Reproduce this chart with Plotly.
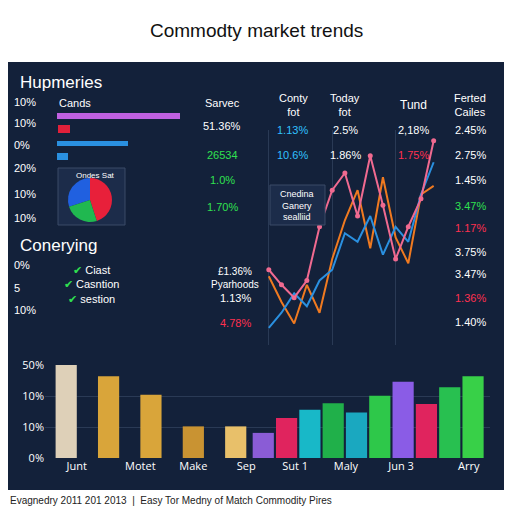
import plotly.graph_objects as go

# ---- data ----
line_x = list(range(14))
orange = [32, 20, 10, 28, 15, 40, 58, 72, 45, 78, 50, 38, 70, 74]
blue = [8, 15, 24, 18, 30, 35, 52, 48, 60, 42, 55, 48, 70, 85]
pink = [35, 28, 22, 30, 55, 72, 80, 60, 88, 65, 40, 55, 68, 95]

bar_x = [1, 3, 5, 7, 9, 10.3, 11.4, 12.5, 13.6, 14.7, 15.8, 16.9, 18.0, 19.1, 20.2]
bar_v = [100, 88, 68, 34, 34, 27, 43, 52, 59, 49, 67, 82, 58, 76, 88]
bar_c = ["#ded0b8", "#d9a53a", "#d9a53a", "#c99332", "#e8c06a", "#8a5cd6", "#e0245e", "#18b8c8",
         "#20b04a", "#1aa8c0", "#2ec84a", "#8a5ce6", "#e0245e", "#28c050", "#38d048"]
bar_ticks = ["Junt", "Motet", "Make", "Sep", "Sut 1", "Maly", "Jun 3", "Arry"]
bar_tickpos = [1.5, 4.5, 7, 9.5, 11.8, 14.2, 16.8, 20]
pie_vals = [45, 30, 25]
pie_cols = ["#e8203a", "#2060e0", "#20b850"]

W = 512
OFF = 8
def px(x): return (x - OFF) / W
def py(y): return 1 - (y - OFF) / W

fig = go.Figure()
fig.add_trace(go.Scatter(x=line_x, y=orange, mode="lines", line=dict(color="#f07a20", width=2), xaxis="x", yaxis="y"))
fig.add_trace(go.Scatter(x=line_x, y=blue, mode="lines", line=dict(color="#2a90e0", width=2), xaxis="x", yaxis="y"))
fig.add_trace(go.Scatter(x=line_x, y=pink, mode="lines+markers", line=dict(color="#f06a90", width=2),
                         marker=dict(size=5, color="#f06a90"), xaxis="x", yaxis="y"))
fig.add_trace(go.Bar(x=bar_x, y=bar_v, marker=dict(color=bar_c, line=dict(width=0)), width=1.0, xaxis="x2", yaxis="y2"))
fig.add_trace(go.Pie(values=pie_vals, marker=dict(colors=pie_cols), textinfo="none", sort=False,
                     domain=dict(x=[px(62), px(118)], y=[py(222), py(178)])))

fig.update_layout(
    width=512, height=512, margin=dict(l=0, r=0, t=0, b=0, autoexpand=False), showlegend=False,
    paper_bgcolor="white", plot_bgcolor="rgba(0,0,0,0)",
    xaxis=dict(domain=[px(265), px(440)], range=[-0.3, 13.5], showgrid=True, gridcolor="#2a3a55",
               showticklabels=False, zeroline=False),
    yaxis=dict(domain=[py(345), py(130)], range=[0, 100], showgrid=False, showticklabels=False, zeroline=False),
    xaxis2=dict(domain=[px(45), px(490)], range=[0, 21], anchor="y2", tickvals=bar_tickpos, ticktext=bar_ticks,
                tickfont=dict(color="white", size=11), showgrid=False, zeroline=False),
    yaxis2=dict(domain=[py(458), py(365)], range=[0, 100], anchor="x2", tickvals=[0, 33, 66, 100],
                ticktext=["0%", "10%", "10%", "50%"], tickfont=dict(color="white", size=11),
                showgrid=True, gridcolor="#2a3a55", zeroline=False),
)

shapes = [dict(type="rect", xref="paper", yref="paper", x0=px(5), x1=px(507), y0=py(490), y1=py(62),
               fillcolor="#13213a", line=dict(width=0), layer="below"),
          dict(type="rect", xref="paper", yref="paper", x0=px(57), x1=px(180), y0=py(119), y1=py(113),
               fillcolor="#c060e0", line=dict(width=0)),
          dict(type="rect", xref="paper", yref="paper", x0=px(58), x1=px(70), y0=py(133), y1=py(125),
               fillcolor="#e0203a", line=dict(width=0)),
          dict(type="rect", xref="paper", yref="paper", x0=px(57), x1=px(128), y0=py(146), y1=py(141),
               fillcolor="#2a90e0", line=dict(width=0)),
          dict(type="rect", xref="paper", yref="paper", x0=px(57), x1=px(68), y0=py(160), y1=py(153),
               fillcolor="#2a90e0", line=dict(width=0)),
          dict(type="rect", xref="paper", yref="paper", x0=px(58), x1=px(125), y0=py(225), y1=py(168),
               fillcolor="#1c2c4a", line=dict(color="#3a4a66", width=1), layer="below"),
          dict(type="rect", xref="paper", yref="paper", x0=px(270), x1=px(325), y0=py(225), y1=py(185),
               fillcolor="#1c2c4a", line=dict(color="#3a4a66", width=1)),
          ]
fig.update_layout(shapes=shapes)

ann = []
def t(x, y, s, c="white", size=11, anchor="center"):
    ann.append(dict(x=px(x), y=py(y), xref="paper", yref="paper", text=s, showarrow=False,
                    font=dict(color=c, size=size, family="Liberation Sans"), xanchor=anchor, yanchor="middle"))

t(256, 30, "Commodty market trends", "#111", 19)
t(18, 82, "Hupmeries", size=17, anchor="left")
for y, s in zip([102, 123, 145, 168, 194, 218], ["10%", "10%", "0%", "20%", "10%", "10%"]):
    t(12, y, s, anchor="left")
t(57, 103, "Cands", anchor="left")
t(222, 103, "Sarvec")
t(222, 126, "51.36%")
t(222, 155, "26534", "#30e050")
t(222, 180, "1.0%", "#30e050")
t(222, 207, "1.70%", "#30e050")
t(293, 105, "Conty<br>fot", size=11)
t(345, 105, "Today<br>fot", size=11)
t(413, 105, "Tund", size=12)
t(470, 105, "Ferted<br>Cailes", size=11)
t(292, 130, "1.13%", "#30c0ff"); t(345, 130, "2.5%"); t(413, 130, "2,18%"); t(470, 130, "2.45%")
t(292, 155, "10.6%", "#30c0ff"); t(345, 155, "1.86%"); t(413, 155, "1.75%", "#ff3050"); t(470, 155, "2.75%")
for y, s, c in [(180, "1.45%", "white"), (206, "3.47%", "#30e050"), (228, "1.17%", "#ff3050"),
                (252, "3.75%", "white"), (274, "3.47%", "white"), (298, "1.36%", "#ff3050"), (322, "1.40%", "white")]:
    t(470, y, s, c)
t(95, 175, "Ondes Sat", size=8)
t(297, 205, "Cnedina<br>Ganery<br>sealliid", size=9)
t(18, 245, "Conerying", size=17, anchor="left")
for y, s in zip([265, 288, 310], ["0%", "5", "10%"]):
    t(12, y, s, anchor="left")
t(62, 284, "<span style='color:#30e050'>✔</span> Ciast<br><span style='color:#30e050'>✔</span> Casntion<br><span style='color:#30e050'>✔</span> sestion", size=11, anchor="left")
t(235, 278, "£1.36%<br>Pyarhoods", size=10)
t(235, 298, "1.13%")
t(235, 323, "4.78%", "#ff3050")
t(8, 500, "Evagnedry 2011 201 2013  |  Easy Tor Medny of Match Commodity Pires", "#222", 10, "left")
fig.update_layout(annotations=ann)

fig.write_html("out.html")
